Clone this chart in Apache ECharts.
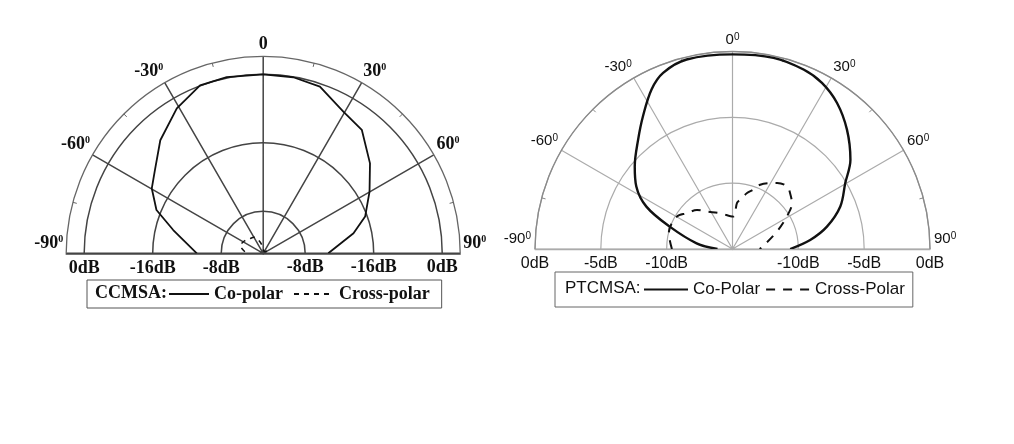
<!DOCTYPE html>
<html>
<head>
<meta charset="utf-8">
<script src="https://cdn.jsdelivr.net/npm/echarts@6/dist/echarts.min.js"></script>
<style>html,body{margin:0;padding:0;background:#fff}#c{width:1014px;height:444px}</style>
</head>
<body>
<div id="c"></div>
<script>
// ---------------- data ----------------
const leftRadialTicks = [-32, -16, 0];
const leftRadialLabels = ['-8dB', '-16dB', '0dB'];
const rightRadialTicks = [-10, -5, 0];
const rightRadialLabels = ['-10dB', '-5dB', '0dB'];

const leftTitle = 'CCMSA:';
const rightTitle = 'PTCMSA:';
const leftNames = ['Co-polar', 'Cross-polar'];
const rightNames = ['Co-Polar', 'Cross-Polar'];

// CCMSA (left) – angle in degrees, level in dB
const leftCoAngle = [-90, -75.5, -67.9, -59.8, -52.4, -42.3, -30.8, -20.6, -11.7, 0, 9.7, 18.8, 29.5, 38.6, 49.9, 59.9, 70.2, 77.5, 90];
const leftCoDb    = [-26.3, -20.1, -14.9, -11.7, -9.9, -6.1, -2.4, 0.1, 0.2, 0, -0.1, -0.7, -3.8, -4.9, -9.2, -13.1, -16.5, -20.2, -26.6];
const leftXAngle  = [-85, -72, -58, -42, -30, -20, -12, 0, 15, 35, 55, 70, 85];
const leftXDb     = [-37.5, -36.2, -36.5, -37.2, -37.5, -38.5, -39.5, -40.8, -41.2, -41.3, -41.0, -40.6, -40.4];

// PTCMSA (right)
const rightCoAngle = [-90, -81, -70.4, -63.8, -57, -49.8, -40.8, -34, -26.9, -21.5, -13.6, 0, 12.1, 21.6, 28.3, 35.6, 43.8, 52.9, 59.7, 68.5, 76.7, 83.4, 90];
const rightCoDb    = [-13.86, -12.24, -9.94, -7.71, -6.29, -5.28, -4.03, -2.84, -1.41, -0.62, -0.19, -0.22, -0.15, -0.34, -0.67, -1.36, -2.44, -3.77, -5.08, -6.2, -7.63, -9.06, -10.62];
const rightXAngle  = [-90, -75.9, -59.8, -51.9, -42.3, -34.4, -19.3, 0.9, 5.6, 8.7, 14.6, 19.2, 23.3, 29.7, 34.1, 41.2, 45.9, 52.3, 58.3, 68, 87, 90];
const rightXDb     = [-10.4, -10.01, -10.11, -10.6, -10.99, -11.56, -12.12, -12.54, -11.48, -11.22, -10.61, -10.24, -9.69, -9.24, -8.95, -8.69, -8.91, -9.3, -10.07, -11.31, -12.78, -12.94];

// ---------------- helpers ----------------
const pairs = (r, a) => r.map((v, i) => [v, a[i]]);
const serifB = {fontFamily: 'Liberation Serif', fontWeight: 'bold', color: '#111'};
const sans = {fontFamily: 'Liberation Sans', fontWeight: 'normal', color: '#111'};

function angleFmt(zeroSup) {
  return function (v) {
    if (v === 0) return zeroSup ? '{a|0}{s|0}' : '{a|0}';
    if (Math.abs(v) === 90) return '{a|' + v + '}{s|0}\n{g| }';
    return '{a|' + v + '}{s|0}';
  };
}
function richFor(base, big, small) {
  return {
    a: Object.assign({}, base, {fontSize: big, lineHeight: big}),
    s: Object.assign({}, base, {fontSize: small, lineHeight: small, verticalAlign: 'top'}),
    g: Object.assign({}, base, {fontSize: 8, lineHeight: 20})
  };
}
function lookup(ticks, labels) {
  return function (v) {
    for (let i = 0; i < ticks.length; i++) if (Math.abs(ticks[i] - v) < 1e-6) return labels[i];
    return '';
  };
}

const L = {c: [263.2, 253.3], r: 197, grid: '#444', rim: '#666'};
const R = {c: [732.5, 249], r: 197.5, grid: '#ababab', rim: '#8a8a8a'};

const option = {
  backgroundColor: '#fff',
  animation: false,
  color: ['#111', '#111'],
  title: [
    {text: leftTitle, left: 95, top: 284, padding: 0, textStyle: Object.assign({}, serifB, {fontSize: 18})},
    {text: rightTitle, left: 565, top: 280, padding: 0, textStyle: Object.assign({}, sans, {fontSize: 17})}
  ],
  legend: [
    {
      data: leftNames, left: 87, top: 280, orient: 'horizontal', selectedMode: false,
      padding: [5, 12, 5, 81], itemWidth: 40, itemHeight: 14, itemGap: 10,
      borderColor: '#555', borderWidth: 1, itemStyle: {opacity: 0},
      textStyle: Object.assign({}, serifB, {fontSize: 18})
    },
    {
      data: rightNames, left: 555, top: 272, orient: 'horizontal', selectedMode: false,
      padding: [9, 8, 9, 88], itemWidth: 44, itemHeight: 14, itemGap: 5,
      borderColor: '#666', borderWidth: 1, itemStyle: {opacity: 0},
      textStyle: Object.assign({}, sans, {fontSize: 17})
    }
  ],
  polar: [
    {center: L.c, radius: L.r},
    {center: L.c, radius: L.r},
    {center: R.c, radius: R.r},
    {center: R.c, radius: R.r}
  ],
  angleAxis: [
    {
      polarIndex: 0, type: 'value', min: -90, max: 90, interval: 30,
      startAngle: 180, endAngle: 0, clockwise: true,
      axisLine: {lineStyle: {color: L.rim, width: 1.3}},
      axisTick: {show: false, inside: true},
      minorTick: {show: true, splitNumber: 2, length: 4, lineStyle: {color: L.rim, width: 1}},
      splitLine: {show: true, lineStyle: {color: L.grid, width: 1.5}},
      axisLabel: {margin: 3, formatter: angleFmt(false), rich: richFor(serifB, 18, 10)}
    },
    {polarIndex: 1, type: 'value', min: -90, max: 90, startAngle: 0, endAngle: 180, clockwise: false, show: false},
    {
      polarIndex: 2, type: 'value', min: -90, max: 90, interval: 30,
      startAngle: 180, endAngle: 0, clockwise: true,
      axisLine: {lineStyle: {color: R.rim, width: 1.3}},
      axisTick: {show: false, inside: true},
      minorTick: {show: true, splitNumber: 2, length: 4, lineStyle: {color: R.rim, width: 1}},
      splitLine: {show: true, lineStyle: {color: R.grid, width: 1.2}},
      axisLabel: {margin: 4, formatter: angleFmt(true), rich: richFor(sans, 15, 10)}
    },
    {polarIndex: 3, type: 'value', min: -90, max: 90, startAngle: 0, endAngle: 180, clockwise: false, show: false}
  ],
  radiusAxis: [
    {
      polarIndex: 0, type: 'value', min: -41.8, max: 4.2,
      axisLine: {lineStyle: {color: L.grid, width: 1.5}},
      axisTick: {show: false, customValues: leftRadialTicks},
      splitLine: {show: true, lineStyle: {color: L.grid, width: 1.5}},
      axisLabel: Object.assign({customValues: leftRadialTicks, margin: 6, fontSize: 18, formatter: lookup(leftRadialTicks, leftRadialLabels)}, serifB)
    },
    {
      polarIndex: 1, type: 'value', min: -41.8, max: 4.2,
      axisLine: {lineStyle: {color: L.grid, width: 1.5}},
      axisTick: {show: false, customValues: leftRadialTicks},
      splitLine: {show: false},
      axisLabel: Object.assign({customValues: leftRadialTicks, margin: -23, fontSize: 18, formatter: lookup(leftRadialTicks, leftRadialLabels)}, serifB)
    },
    {
      polarIndex: 2, type: 'value', min: -15, max: 0, interval: 5,
      axisLine: {lineStyle: {color: R.grid, width: 1.3}},
      axisTick: {show: false},
      splitLine: {show: true, lineStyle: {color: R.grid, width: 1.2}},
      axisLabel: Object.assign({margin: 7, fontSize: 16, formatter: lookup(rightRadialTicks, rightRadialLabels)}, sans)
    },
    {
      polarIndex: 3, type: 'value', min: -15, max: 0, interval: 5,
      axisLine: {lineStyle: {color: R.grid, width: 1.3}},
      axisTick: {show: false},
      splitLine: {show: false},
      axisLabel: Object.assign({margin: -23, fontSize: 16, formatter: lookup(rightRadialTicks, rightRadialLabels)}, sans)
    }
  ],
  series: [
    {
      name: leftNames[0], type: 'line', coordinateSystem: 'polar', polarIndex: 0,
      data: pairs(leftCoDb, leftCoAngle), symbol: 'none', smooth: false, z: 5,
      itemStyle: {color: '#111'}, lineStyle: {color: '#111', width: 1.8}
    },
    {
      name: leftNames[1], type: 'line', coordinateSystem: 'polar', polarIndex: 0,
      data: pairs(leftXDb, leftXAngle), symbol: 'none', smooth: 0.3, z: 5,
      itemStyle: {color: '#111'}, lineStyle: {color: '#111', width: 1.5, type: [5, 5]}
    },
    {
      name: rightNames[0], type: 'line', coordinateSystem: 'polar', polarIndex: 2,
      data: pairs(rightCoDb, rightCoAngle), symbol: 'none', smooth: 0.35, z: 5,
      itemStyle: {color: '#111'}, lineStyle: {color: '#111', width: 2.4}
    },
    {
      name: rightNames[1], type: 'line', coordinateSystem: 'polar', polarIndex: 2,
      data: pairs(rightXDb, rightXAngle), symbol: 'none', smooth: 0.35, z: 5,
      itemStyle: {color: '#111'}, lineStyle: {color: '#111', width: 2, type: [9, 8]}
    }
  ]
};

const chart = echarts.init(document.getElementById('c'), null, {renderer: 'canvas'});
chart.setOption(option);
</script>
</body>
</html>
